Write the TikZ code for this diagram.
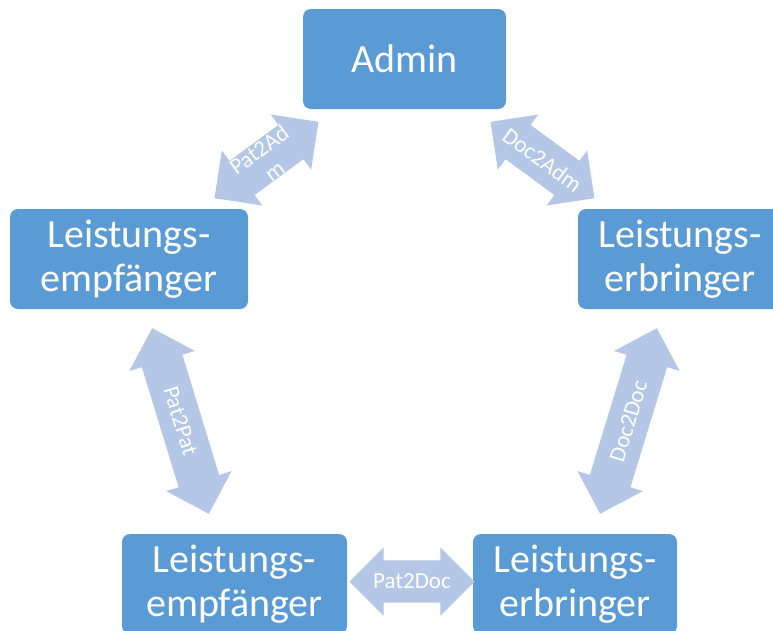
\documentclass[tikz,border=0pt]{standalone}
\usepackage{fontspec}
\setmainfont{Carlito}
\usetikzlibrary{shapes.arrows}
\definecolor{boxblue}{HTML}{5B9BD5}
\definecolor{arrblue}{HTML}{B4C7E7}
\begin{document}
\begin{tikzpicture}[x=1pt,y=-1pt,
  box/.style={fill=boxblue, rounded corners=8pt, text=white, font=\fontsize{40}{44}\selectfont, align=center, minimum height=100pt, inner sep=0pt},
  blockarr/.style={double arrow, fill=arrblue, double arrow head extend=13pt, minimum width=68pt, inner sep=0pt, inner ysep=21pt},
  arrlabel/.style={text=white, font=\fontsize{23}{26}\selectfont, align=center, inner sep=0pt}]
\useasboundingbox (0,0) rectangle (773,630);
\clip (0,0) rectangle (773,630);

\node[box, minimum width=203pt] (admin) at (404.5,59) {Admin};
\node[box, minimum width=238pt] (le1) at (129,259) {Leistungs-\\empfänger};
\node[box, minimum width=204pt] (lb1) at (680,259) {Leistungs-\\erbringer};
\node[box, minimum width=225pt] (le2) at (234.5,584) {Leistungs-\\empfänger};
\node[box, minimum width=204pt] (lb2) at (575,584) {Leistungs-\\erbringer};

\node[blockarr, rotate=36.3, minimum height=129pt] (a1) at (266.5,160) {};
\node[arrlabel, rotate=36.3] (t1) at (a1.center) {Pat2Ad\\m};

\node[blockarr, rotate=-36.3, minimum height=129pt] (a2) at (542.5,160) {};
\node[arrlabel, rotate=-36.3] (t2) at (a2.center) {Doc2Adm};

\node[blockarr, rotate=-73, minimum height=194pt] (a3) at (180.5,421) {};
\node[arrlabel, rotate=-73] (t3) at (a3.center) {Pat2Pat};

\node[blockarr, rotate=73, minimum height=194pt] (a4) at (628.5,421) {};
\node[arrlabel, rotate=73] (t4) at (a4.center) {Doc2Doc};

\node[blockarr, minimum height=125pt] (a5) at (412,581.5) {};
\node[arrlabel] (t5) at (a5.center) {Pat2Doc};
\end{tikzpicture}
\end{document}
